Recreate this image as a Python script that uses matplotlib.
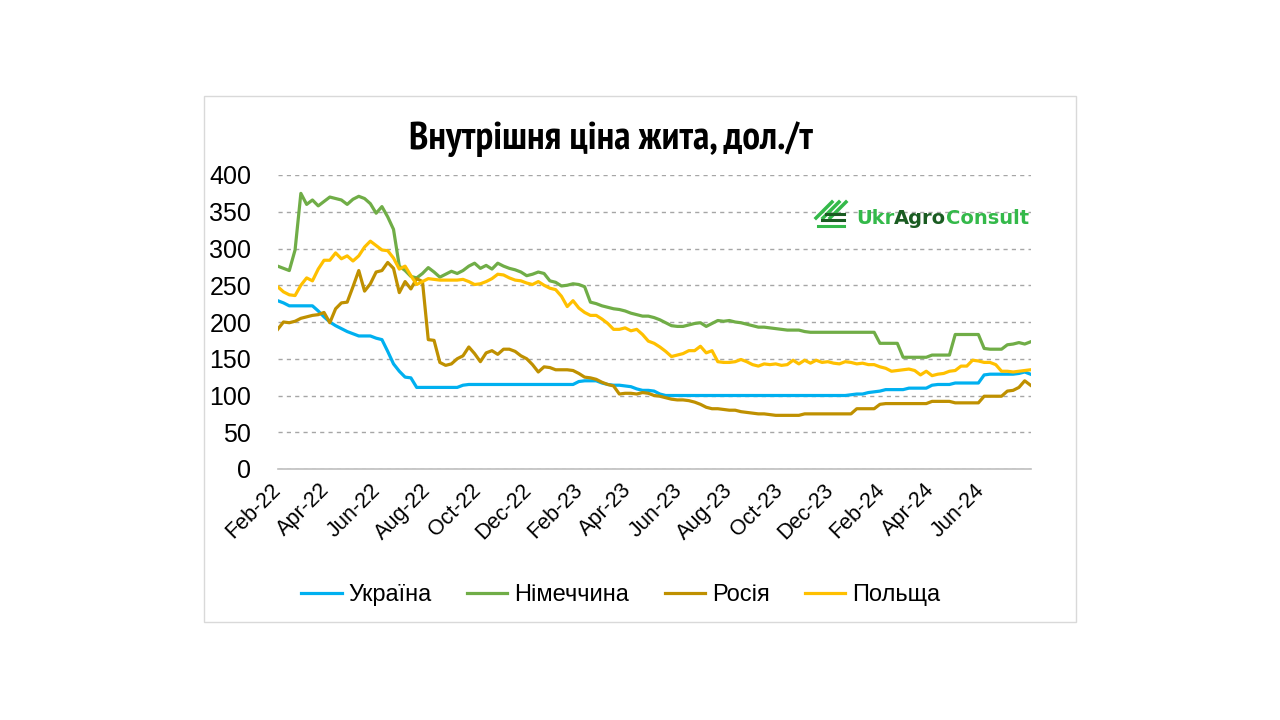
import matplotlib
matplotlib.use('Agg')
import matplotlib.pyplot as plt
import pandas as pd
from matplotlib.patches import Rectangle
from matplotlib.lines import Line2D

plt.rcParams['font.family'] = ['Liberation Sans', 'DejaVu Sans']

# weekly prices, USD/t, from 4 Feb 2022
ukraine = [229, 226, 222, 222, 222, 222, 222, 215, 207, 200,
           195, 191, 187, 184, 181, 181, 181, 178, 176, 160,
           143, 133, 125, 124, 111, 111, 111, 111, 111, 111,
           111, 111, 114, 115, 115, 115, 115, 115, 115, 115,
           115, 115, 115, 115, 115, 115, 115, 115, 115, 115,
           115, 115, 119, 120, 120, 120, 117, 115, 114, 114,
           113, 112, 109, 107, 107, 106, 102, 100, 100, 100,
           100, 100, 100, 100, 100, 100, 100, 100, 100, 100,
           100, 100, 100, 100, 100, 100, 100, 100, 100, 100,
           100, 100, 100, 100, 100, 100, 100, 100, 100, 101,
           102, 102, 104, 105, 106, 108, 108, 108, 108, 110,
           110, 110, 110, 114, 115, 115, 115, 117, 117, 117,
           117, 117, 128, 129, 129, 129, 129, 129, 130, 132,
           129]
germany = [276, 273, 270, 298, 375, 360, 366, 358, 364, 370,
           368, 366, 360, 367, 371, 368, 361, 348, 357, 343,
           326, 276, 270, 262, 260, 266, 274, 268, 261, 265,
           269, 266, 270, 276, 280, 273, 277, 272, 280, 276,
           273, 271, 268, 263, 265, 268, 266, 256, 254, 249,
           250, 252, 251, 248, 227, 225, 222, 220, 218, 217,
           215, 212, 210, 208, 208, 206, 203, 199, 195, 194,
           194, 196, 198, 199, 194, 198, 202, 201, 202, 200,
           199, 197, 195, 193, 193, 192, 191, 190, 189, 189,
           189, 187, 186, 186, 186, 186, 186, 186, 186, 186,
           186, 186, 186, 186, 171, 171, 171, 171, 152, 152,
           152, 152, 152, 155, 155, 155, 155, 183, 183, 183,
           183, 183, 164, 163, 163, 163, 169, 170, 172, 170,
           173]
russia = [190, 200, 199, 201, 205, 207, 209, 210, 213, 199,
          218, 226, 227, 248, 270, 242, 252, 268, 270, 281,
          273, 240, 255, 245, 259, 255, 176, 175, 145, 141,
          143, 150, 154, 166, 157, 146, 158, 161, 156, 163,
          163, 160, 154, 150, 142, 132, 139, 138, 135, 135,
          135, 134, 130, 125, 124, 122, 118, 115, 113, 102,
          103, 103, 102, 104, 103, 100, 99, 97, 95, 94,
          94, 93, 91, 88, 84, 82, 82, 81, 80, 80,
          78, 77, 76, 75, 75, 74, 73, 73, 73, 73,
          73, 75, 75, 75, 75, 75, 75, 75, 75, 75,
          82, 82, 82, 82, 88, 89, 89, 89, 89, 89,
          89, 89, 89, 92, 92, 92, 92, 90, 90, 90,
          90, 90, 99, 99, 99, 99, 106, 107, 111, 120,
          114]
poland = [248, 241, 237, 236, 250, 260, 256, 272, 284, 284,
          294, 286, 290, 283, 290, 302, 310, 304, 298, 297,
          287, 272, 276, 263, 251, 255, 259, 258, 257, 257,
          257, 257, 258, 255, 251, 252, 255, 259, 265, 264,
          260, 257, 256, 253, 251, 255, 250, 246, 244, 235,
          221, 229, 219, 213, 209, 209, 204, 198, 190, 190,
          192, 188, 190, 183, 174, 171, 166, 160, 153, 155,
          157, 161, 161, 167, 158, 161, 146, 145, 145, 146,
          149, 146, 142, 140, 143, 142, 143, 141, 142, 148,
          143, 148, 144, 148, 145, 146, 144, 143, 146, 145,
          143, 144, 142, 142, 139, 137, 133, 134, 135, 136,
          134, 128, 133, 127, 129, 130, 133, 134, 140, 140,
          148, 147, 145, 145, 142, 133, 133, 132, 133, 134,
          135]

series_names = ['Україна', 'Німеччина', 'Росія', 'Польща']
series_colors = ['#00B0F0', '#70AD47', '#BF9000', '#FFC000']
tick_labels = ['Feb-22', 'Apr-22', 'Jun-22', 'Aug-22', 'Oct-22', 'Dec-22', 'Feb-23',
               'Apr-23', 'Jun-23', 'Aug-23', 'Oct-23', 'Dec-23', 'Feb-24', 'Apr-24', 'Jun-24']

dates = pd.date_range('2022-02-04', periods=len(ukraine), freq='7D')
tick_dates = [dates[0] + pd.DateOffset(months=2 * k) for k in range(len(tick_labels))]

W, H = 1280, 720
fig = plt.figure(figsize=(W / 100, H / 100), dpi=100)

# chart frame
fig.patches.append(Rectangle((204 / W, 1 - 622 / H), (1076 - 204) / W, (622 - 96) / H,
                             transform=fig.transFigure, fill=False,
                             edgecolor='#D9D9D9', lw=1))

ax = fig.add_axes([277.7 / W, 1 - 469 / H, (1030.5 - 277.7) / W, (469 - 175) / H])
for vals, name, col in zip([ukraine, germany, russia, poland], series_names, series_colors):
    ax.plot(dates, vals, color=col, lw=2.3, label=name, solid_joinstyle='round')

ax.set_xlim(dates[0], dates[-1])
ax.set_ylim(0, 400)
ax.set_yticks(range(0, 401, 50))
ax.yaxis.grid(True, linestyle=(0, (3, 3)), color='#A6A6A6', lw=1)
ax.set_axisbelow(True)
for s in ['top', 'right', 'left']:
    ax.spines[s].set_visible(False)
ax.spines['bottom'].set_color('#BFBFBF')
ax.spines['bottom'].set_linewidth(1.2)

ax.set_xticks(tick_dates)
ax.set_xticklabels(tick_labels, rotation=45, ha='right', va='center', rotation_mode='anchor')
ax.tick_params(axis='x', length=0, labelsize=15.5, pad=13)
ax.tick_params(axis='y', length=0, labelsize=18, pad=19)

# title in a narrow bold face, sized to the reference width
title = fig.text(611 / W, 1 - 139 / H, 'Внутрішня ціна жита, дол./т', ha='center', va='center',
                 fontsize=26, fontweight='bold', family=['PT Sans Narrow', 'Liberation Sans'])

handles, labels = ax.get_legend_handles_labels()
fig.legend(handles, labels, loc='center', bbox_to_anchor=(621 / W, 1 - 595 / H), ncol=4,
           frameon=False, fontsize=17, handlelength=1.7, handletextpad=0.3,
           columnspacing=1.5)

# UkrAgroConsult logo
light, dark = '#34B94A', '#1A5C22'
for k in range(3):
    fig.add_artist(Line2D([(816 + 7 * k) / W, (832 + 7 * k) / W],
                          [1 - 218 / H, 1 - 202 / H],
                          color=light, lw=2.5, transform=fig.transFigure))
for k, y in enumerate([214, 220, 226]):
    fig.add_artist(Line2D([(826 - 4 * k) / W, 844 / W], [1 - y / H, 1 - y / H],
                          color=dark if k < 2 else light, lw=2.2, transform=fig.transFigure))

fig.canvas.draw()
r = fig.canvas.get_renderer()
tw = title.get_window_extent(renderer=r).width
title.set_fontsize(26 * 402 / tw)

x = 856 / W
for part, col in [('Ukr', light), ('Agro', dark), ('Consult', light)]:
    t = fig.text(x, 1 - 218 / H, part, color=col, fontsize=14, fontweight='bold',
                 family='DejaVu Sans', ha='left', va='center')
    bb = t.get_window_extent(renderer=r)
    x = bb.x1 / W

fig.savefig('out.png', dpi=100)
